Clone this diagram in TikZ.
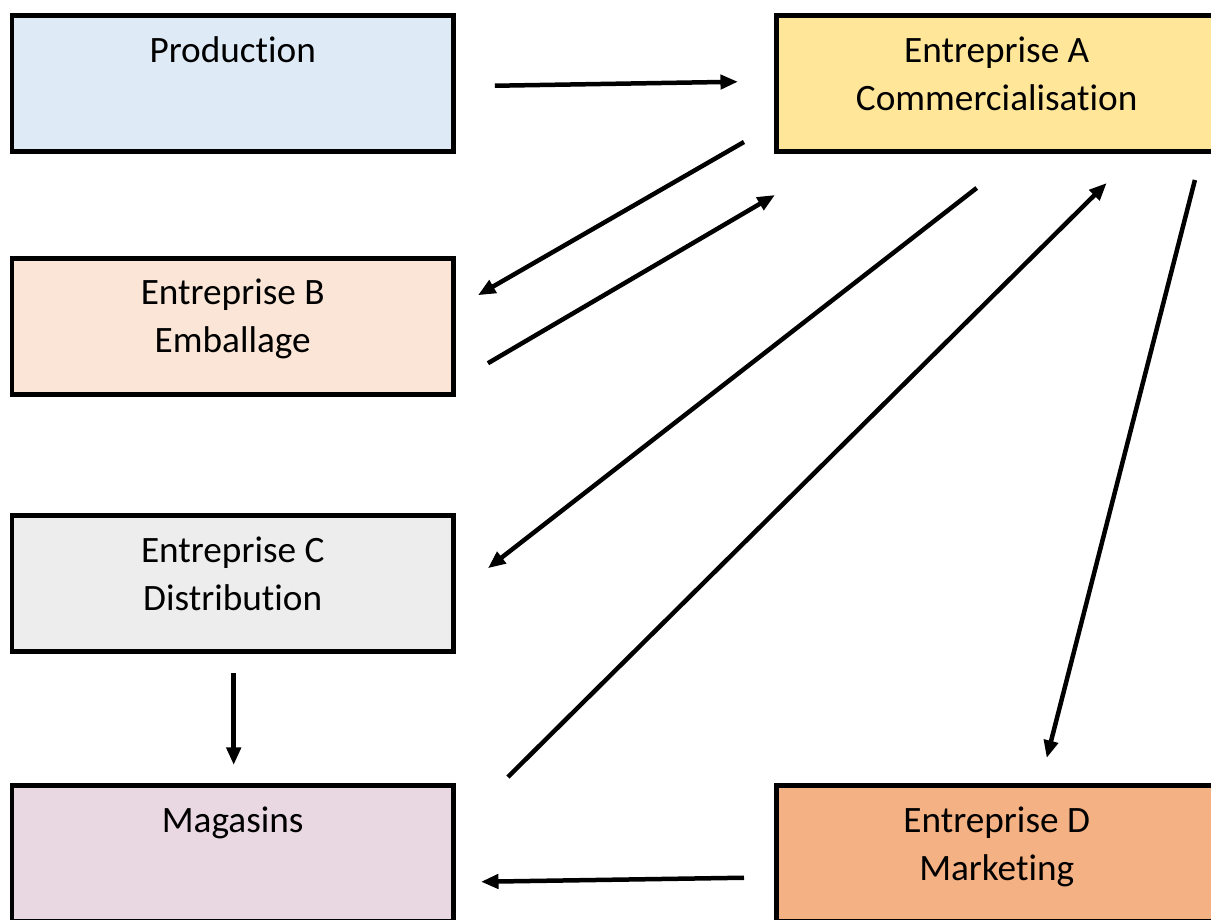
\documentclass[tikz,border=0pt]{standalone}
\usepackage{fontspec}
\setmainfont{Carlito}[Ligatures=NoCommon]
\usetikzlibrary{calc}
\usetikzlibrary{arrows.meta}

\definecolor{prodblue}{HTML}{DEEBF7}
\definecolor{commyellow}{HTML}{FFE699}
\definecolor{embpeach}{HTML}{FBE5D6}
\definecolor{distgray}{HTML}{EDEDED}
\definecolor{magpink}{HTML}{E9D7E2}
\definecolor{mktorange}{HTML}{F4B183}

\begin{document}
\begin{tikzpicture}[x=0.02cm, y=-0.02cm,
    box/.style={draw=black, line width=0.1cm, anchor=north west, outer sep=0pt,
      minimum width=8.83cm, minimum height=2.73cm},
    lbl/.style={anchor=base, align=center, inner sep=0pt,
      font=\fontsize{21.2}{27.3}\selectfont},
    arr/.style={line width=0.09cm, -{Triangle[length=10pt,width=8pt]}}]
				% Page frame
				\useasboundingbox (0,0) rectangle (1211,920);
				\clip (0,0) rectangle (1211,920);
				
				% Boxes
				\node[box, fill=prodblue] (prod) at (12,15.5) {};
				\node[box, fill=commyellow] (comm) at (776,15.5) {};
				\node[box, fill=embpeach] (emb) at (12,258) {};
				\node[box, fill=distgray] (dist) at (12,515.5) {};
				\node[box, fill=magpink] (mag) at (12,785.5) {};
				\node[box, fill=mktorange] (mkt) at (776,785.5) {};
				
				% Labels (base = last line)
				\node[lbl] (prod-txt) at ($(prod.north)+(0,46.5)$) {Production};
				\node[lbl] (comm-txt) at ($(comm.north)+(0,94.5)$) {Entreprise A\\Commercialisation};
				\node[lbl] (emb-txt) at ($(emb.north)+(0,94.5)$) {Entreprise B\\Emballage};
				\node[lbl] (dist-txt) at ($(dist.north)+(0,94.5)$) {Entreprise C\\Distribution};
				\node[lbl] (mag-txt) at ($(mag.north)+(0,46.5)$) {Magasins};
				\node[lbl] (mkt-txt) at ($(mkt.north)+(0,94.5)$) {Entreprise D\\Marketing};
				
				% Arrows
				\draw[arr] ($(prod.east)+(41.5,2)$) -- ($(comm.west)+(-38,-2)$);
				\draw[arr] ($(comm.south west)+(-32,-10)$) -- ($(emb.east)+(24.5,-31)$);
				\draw[arr] ($(emb.east)+(34.5,37)$) -- ($(comm.south west)+(-1,43)$);
				\draw[arr] ($(comm.south)+(-20,36)$) -- ($(dist.east)+(34.5,-15.5)$);
				\draw[arr] ($(mag.north east)+(54.5,-8.5)$) -- ($(comm.south)+(110,31)$);
				\draw[arr] ($(comm.south east)+(-22.5,28)$) -- ($(mkt.north)+(50,-27.5)$);
				\draw[arr] ($(dist.south)+(1,21)$) -- ($(mag.north)+(1,-20.5)$);
				\draw[arr] ($(mkt.west)+(-32,24)$) -- ($(mag.east)+(27.5,28)$);
\end{tikzpicture}
\end{document}
